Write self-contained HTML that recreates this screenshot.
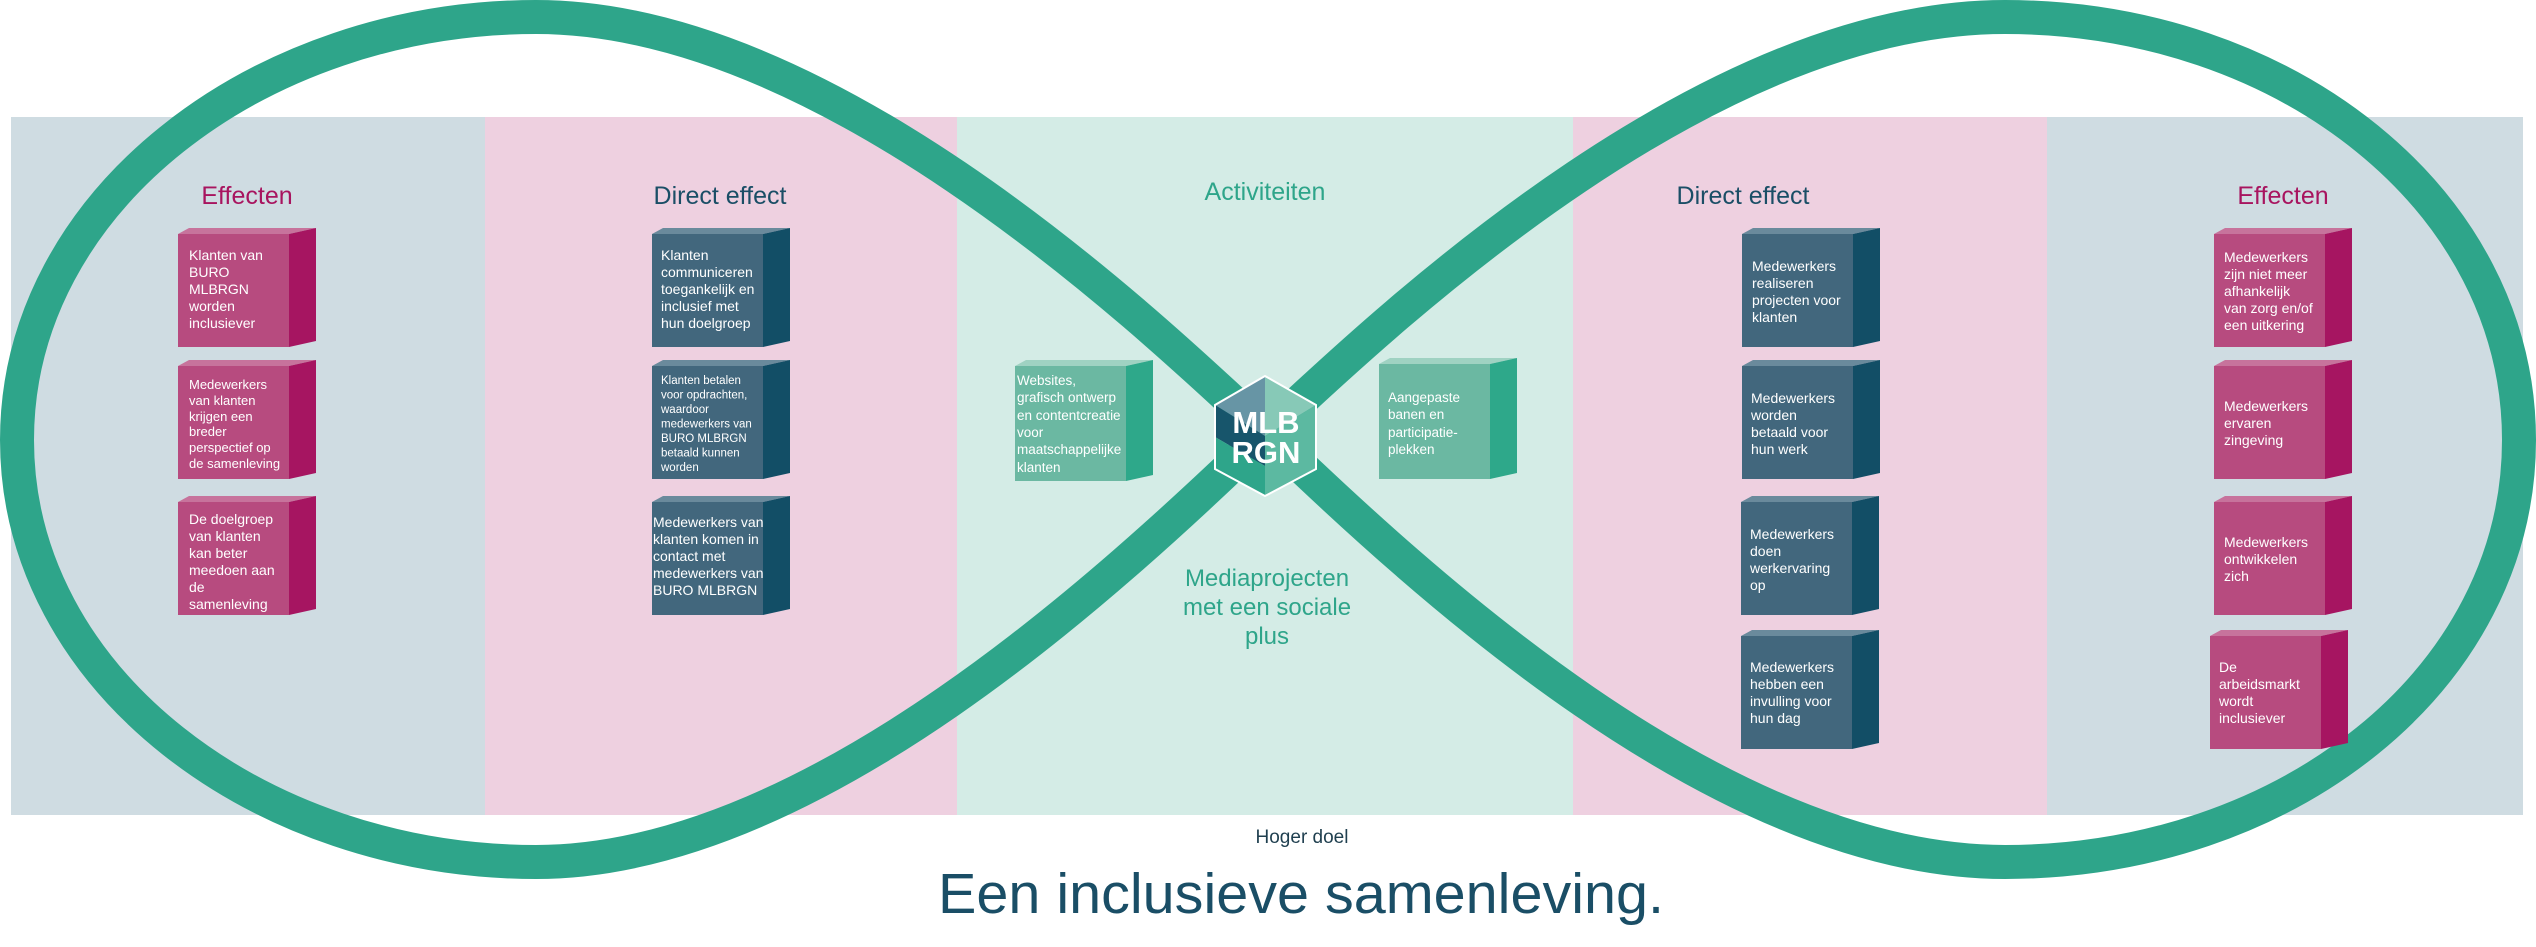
<!DOCTYPE html>
<html><head><meta charset="utf-8"><style>
html,body{margin:0;padding:0;background:#fff;}
svg{display:block;}
text{font-family:"Liberation Sans",sans-serif;}
.w{fill:#fff;}
</style></head><body>
<svg width="2536" height="947" viewBox="0 0 2536 947" xmlns="http://www.w3.org/2000/svg">
<defs>
<g id="bm"><polygon points="0,0 11,-6 138,-6 111,0" fill="#c7739c"/><rect x="0" y="0" width="111" height="113" fill="#b74b7f"/><polygon points="111,0 138,-6 138,107 111,113" fill="#a61561"/></g>
<g id="bd"><polygon points="0,0 11,-6 138,-6 111,0" fill="#6a8a9c"/><rect x="0" y="0" width="111" height="113" fill="#42677d"/><polygon points="111,0 138,-6 138,107 111,113" fill="#124e66"/></g>
<g id="bg"><polygon points="0,0 11,-6 138,-6 111,0" fill="#9fd2c2"/><rect x="0" y="0" width="111" height="115" fill="#6bb8a2"/><polygon points="111,0 138,-6 138,109 111,115" fill="#2ea88a"/></g>
</defs>
<rect x="11" y="117" width="474" height="698" fill="#cfdce2"/>
<rect x="485" y="117" width="472" height="698" fill="#eed0e0"/>
<rect x="957" y="117" width="616" height="698" fill="#d4ece6"/>
<rect x="1573" y="117" width="474" height="698" fill="#eed0e0"/>
<rect x="2047" y="117" width="476" height="698" fill="#cfdce2"/>
<path d="M1266 433 C1130 305 820 17 536 17 C260 17 17 200 17 440 C17 680 260 862 536 862 C820 862 1130 562 1266 433 C1402 305 1712 17 2005 17 C2285 17 2519 200 2519 440 C2519 680 2285 862 2005 862 C1712 862 1402 562 1266 433 Z" fill="none" stroke="#2ea58a" stroke-width="34"/>
<text x="247" y="204" font-size="25" fill="#a8145f" text-anchor="middle">Effecten</text>
<text x="720" y="204" font-size="25" fill="#1a4e66" text-anchor="middle">Direct effect</text>
<text x="1265" y="200" font-size="25" fill="#2ea58a" text-anchor="middle">Activiteiten</text>
<text x="1743" y="204" font-size="25" fill="#1a4e66" text-anchor="middle">Direct effect</text>
<text x="2283" y="204" font-size="25" fill="#a8145f" text-anchor="middle">Effecten</text>
<use href="#bm" x="178" y="234"/><use href="#bm" x="178" y="366"/><use href="#bm" x="178" y="502"/>
<text class="w" font-size="14"><tspan x="189" y="260">Klanten van</tspan><tspan x="189" y="277">BURO</tspan><tspan x="189" y="294">MLBRGN</tspan><tspan x="189" y="311">worden</tspan><tspan x="189" y="328">inclusiever</tspan></text>
<text class="w" font-size="13"><tspan x="189" y="389">Medewerkers</tspan><tspan x="189" y="405">van klanten</tspan><tspan x="189" y="421">krijgen een</tspan><tspan x="189" y="436">breder</tspan><tspan x="189" y="452">perspectief op</tspan><tspan x="189" y="468">de samenleving</tspan></text>
<text class="w" font-size="14"><tspan x="189" y="524">De doelgroep</tspan><tspan x="189" y="541">van klanten</tspan><tspan x="189" y="558">kan beter</tspan><tspan x="189" y="575">meedoen aan</tspan><tspan x="189" y="592">de</tspan><tspan x="189" y="609">samenleving</tspan></text>
<use href="#bd" x="652" y="234"/><use href="#bd" x="652" y="366"/><use href="#bd" x="652" y="502"/>
<text class="w" font-size="14"><tspan x="661" y="260">Klanten</tspan><tspan x="661" y="277">communiceren</tspan><tspan x="661" y="294">toegankelijk en</tspan><tspan x="661" y="311">inclusief met</tspan><tspan x="661" y="328">hun doelgroep</tspan></text>
<text class="w" font-size="11.5"><tspan x="661" y="384">Klanten betalen</tspan><tspan x="661" y="398.5">voor opdrachten,</tspan><tspan x="661" y="413">waardoor</tspan><tspan x="661" y="427.5">medewerkers van</tspan><tspan x="661" y="442">BURO MLBRGN</tspan><tspan x="661" y="456.5">betaald kunnen</tspan><tspan x="661" y="471">worden</tspan></text>
<text class="w" font-size="14"><tspan x="653" y="527">Medewerkers van</tspan><tspan x="653" y="544">klanten komen in</tspan><tspan x="653" y="561">contact met</tspan><tspan x="653" y="578">medewerkers van</tspan><tspan x="653" y="595">BURO MLBRGN</tspan></text>
<use href="#bg" x="1015" y="366"/><use href="#bg" x="1379" y="364"/>
<text class="w" font-size="13.5"><tspan x="1017" y="385">Websites,</tspan><tspan x="1017" y="402">grafisch ontwerp</tspan><tspan x="1017" y="420">en contentcreatie</tspan><tspan x="1017" y="437">voor</tspan><tspan x="1017" y="454">maatschappelijke</tspan><tspan x="1017" y="472">klanten</tspan></text>
<text class="w" font-size="13.5"><tspan x="1388" y="402">Aangepaste</tspan><tspan x="1388" y="419">banen en</tspan><tspan x="1388" y="437">participatie-</tspan><tspan x="1388" y="454">plekken</tspan></text>
<g stroke="none">
<polygon points="1265,376 1215,405 1265,436" fill="#6795a5"/>
<polygon points="1265,376 1316,405 1265,436" fill="#87c9b7"/>
<polygon points="1215,405 1265,436 1265,466 1215,437" fill="#17556b"/>
<polygon points="1215,437 1265,466 1265,496 1215,469" fill="#2ea58a"/>
<polygon points="1316,405 1265,436 1265,496 1316,469" fill="#5cb9a1"/>
</g>
<polygon points="1265,376 1316,405 1316,469 1265,496 1215,469 1215,405" fill="none" stroke="#fff" stroke-width="2"/>
<text x="1266" y="433" font-size="31" font-weight="bold" fill="#fff" text-anchor="middle">MLB</text>
<text x="1266" y="463" font-size="31" font-weight="bold" fill="#fff" text-anchor="middle">RGN</text>
<text font-size="24" fill="#2ea58a" text-anchor="middle"><tspan x="1267" y="586">Mediaprojecten</tspan><tspan x="1267" y="615">met een sociale</tspan><tspan x="1267" y="644">plus</tspan></text>
<use href="#bd" x="1742" y="234"/><use href="#bd" x="1742" y="366"/><use href="#bd" x="1741" y="502"/><use href="#bd" x="1741" y="636"/>
<text class="w" font-size="14"><tspan x="1752" y="271">Medewerkers</tspan><tspan x="1752" y="288">realiseren</tspan><tspan x="1752" y="305">projecten voor</tspan><tspan x="1752" y="322">klanten</tspan></text>
<text class="w" font-size="14"><tspan x="1751" y="403">Medewerkers</tspan><tspan x="1751" y="420">worden</tspan><tspan x="1751" y="437">betaald voor</tspan><tspan x="1751" y="454">hun werk</tspan></text>
<text class="w" font-size="14"><tspan x="1750" y="539">Medewerkers</tspan><tspan x="1750" y="556">doen</tspan><tspan x="1750" y="573">werkervaring</tspan><tspan x="1750" y="590">op</tspan></text>
<text class="w" font-size="14"><tspan x="1750" y="672">Medewerkers</tspan><tspan x="1750" y="689">hebben een</tspan><tspan x="1750" y="706">invulling voor</tspan><tspan x="1750" y="723">hun dag</tspan></text>
<use href="#bm" x="2214" y="234"/><use href="#bm" x="2214" y="366"/><use href="#bm" x="2214" y="502"/><use href="#bm" x="2210" y="636"/>
<text class="w" font-size="14"><tspan x="2224" y="262">Medewerkers</tspan><tspan x="2224" y="279">zijn niet meer</tspan><tspan x="2224" y="296">afhankelijk</tspan><tspan x="2224" y="313">van zorg en/of</tspan><tspan x="2224" y="330">een uitkering</tspan></text>
<text class="w" font-size="14"><tspan x="2224" y="411">Medewerkers</tspan><tspan x="2224" y="428">ervaren</tspan><tspan x="2224" y="445">zingeving</tspan></text>
<text class="w" font-size="14"><tspan x="2224" y="547">Medewerkers</tspan><tspan x="2224" y="564">ontwikkelen</tspan><tspan x="2224" y="581">zich</tspan></text>
<text class="w" font-size="14"><tspan x="2219" y="672">De</tspan><tspan x="2219" y="689">arbeidsmarkt</tspan><tspan x="2219" y="706">wordt</tspan><tspan x="2219" y="723">inclusiever</tspan></text>
<text x="1302" y="843" font-size="19" fill="#1f3f4f" text-anchor="middle">Hoger doel</text>
<text x="938" y="913" font-size="57" fill="#1a4e66" textLength="726" lengthAdjust="spacingAndGlyphs">Een inclusieve samenleving.</text>
</svg>
</body></html>
